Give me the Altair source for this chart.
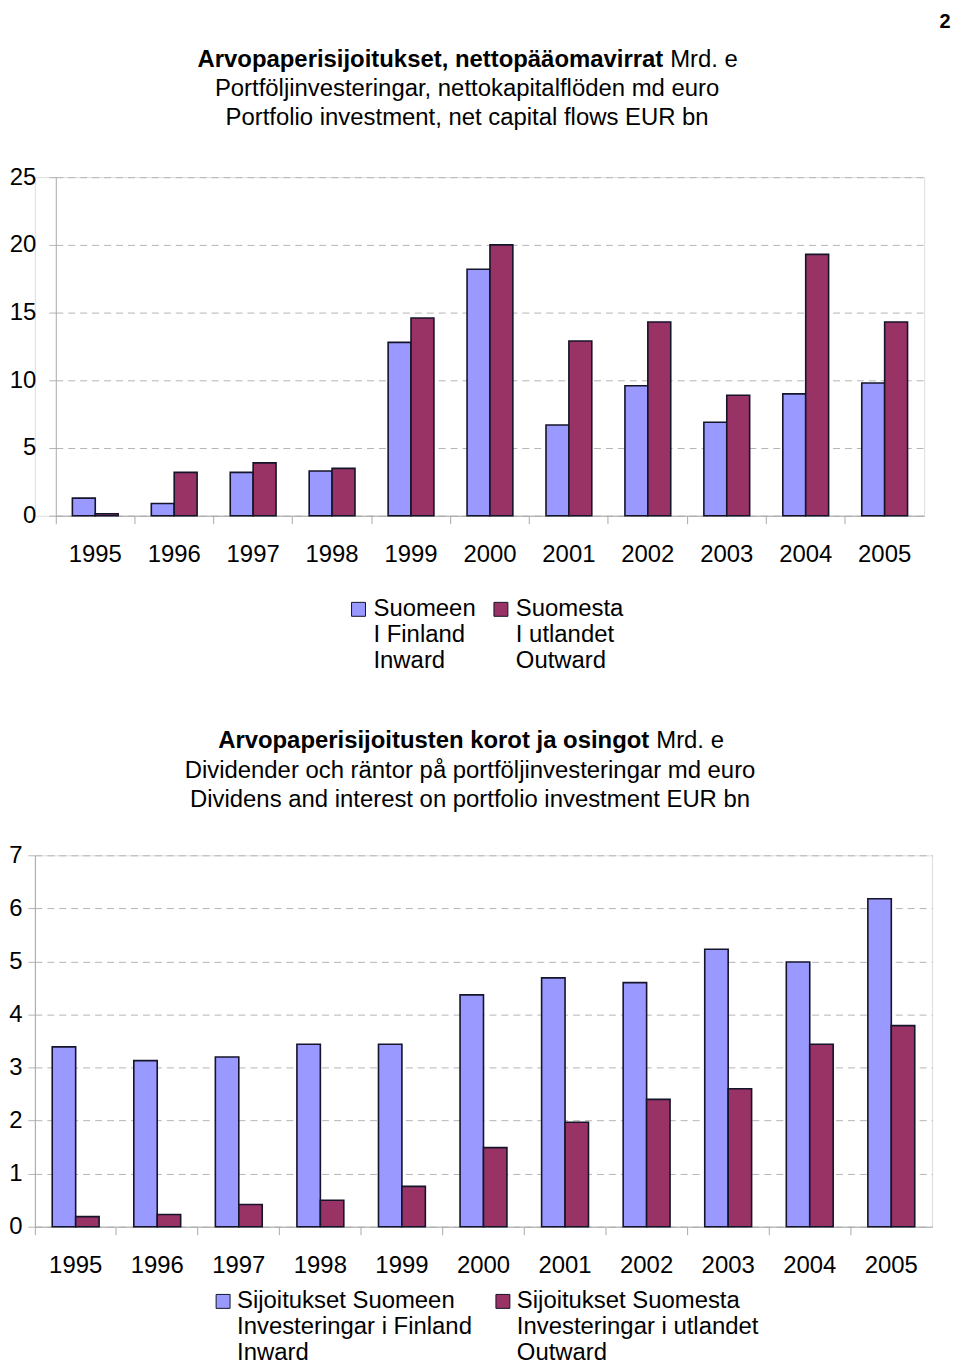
import altair as alt
import pandas as pd

FONT = "Liberation Sans"

# ---------------- data ----------------
years = ["1995", "1996", "1997", "1998", "1999", "2000", "2001", "2002", "2003", "2004", "2005"]

flows_inward = [1.3, 0.9, 3.2, 3.3, 12.8, 18.2, 6.7, 9.6, 6.9, 9.0, 9.8]
flows_outward = [0.15, 3.2, 3.9, 3.5, 14.6, 20.0, 12.9, 14.3, 8.9, 19.3, 14.3]

income_inward = [3.39, 3.13, 3.2, 3.44, 3.44, 4.37, 4.69, 4.6, 5.23, 4.99, 6.18]
income_outward = [0.19, 0.23, 0.42, 0.5, 0.76, 1.49, 1.97, 2.4, 2.6, 3.44, 3.79]

top_series = ["Suomeen", "Suomesta"]
top_legend_lines = [["Suomeen", "I Finland", "Inward"], ["Suomesta", "I utlandet", "Outward"]]
bottom_series = ["Sijoitukset Suomeen", "Sijoitukset Suomesta"]
bottom_legend_lines = [["Sijoitukset Suomeen", "Investeringar i Finland", "Inward"],
                       ["Sijoitukset Suomesta", "Investeringar i utlandet", "Outward"]]

top_title_bold = "Arvopaperisijoitukset, nettopääomavirrat"
top_title_rest = "Mrd. e"
top_title_lines = ["Portföljinvesteringar, nettokapitalflöden md euro",
                   "Portfolio investment, net capital flows EUR bn"]
bottom_title_bold = "Arvopaperisijoitusten korot ja osingot"
bottom_title_rest = "Mrd. e"
bottom_title_lines = ["Dividender och räntor på portföljinvesteringar md euro",
                      "Dividens and interest on portfolio investment EUR bn"]
page_number = "2"

top_ticks = [0, 5, 10, 15, 20, 25]
bottom_ticks = [0, 1, 2, 3, 4, 5, 6, 7]

COLORS = ["#9999FF", "#993366"]
GRID = "#b4b4b4"
AXIS = "#a8a8a8"
SHIFT = 21  # top panel's plot starts this far right of the shared left edge


def long_frame(series, v_in, v_out):
    rows = []
    for y, a, b in zip(years, v_in, v_out):
        rows.append({"year": y, "series": series[0], "value": a})
        rows.append({"year": y, "series": series[1], "value": b})
    return pd.DataFrame(rows)


def text_layer(text, x, y, size=24, weight="normal", align="center", baseline="middle"):
    return alt.Chart(pd.DataFrame({"t": [text]})).mark_text(
        font=FONT, fontSize=size, fontWeight=weight, align=align,
        baseline=baseline, color="black"
    ).encode(x=alt.value(x), y=alt.value(y), text="t:N")


def label_expr(series, lines):
    def arr(ls):
        return "[" + ", ".join("'" + s + "'" for s in ls) + "]"
    return f"datum.label == '{series[0]}' ? {arr(lines[0])} : {arr(lines[1])}"


def bars(df, series, lines, ymax, ticks, width, height, inner_pad, lab_pad_y,
         legend_x, legend_y, col_pad, lab_off, shift=0):
    xscale = alt.Scale(paddingInner=0, paddingOuter=0)
    yaxis_extra = {}
    if shift:
        xscale = alt.Scale(paddingInner=0, paddingOuter=0, range=[shift, width])
        yaxis_extra = {"offset": -shift}
    return alt.Chart(df).mark_bar(stroke="#14142a", strokeWidth=1.6).encode(
        x=alt.X("year:N", sort=years, scale=xscale,
                axis=alt.Axis(title=None, labelAngle=0, labelFontSize=24, labelFont=FONT,
                              labelColor="black", labelPadding=19, tickSize=8,
                              bandPosition=0, tickColor=AXIS, domainColor=AXIS,
                              grid=False)),
        xOffset=alt.XOffset("series:N", sort=series,
                            scale=alt.Scale(paddingInner=0, paddingOuter=inner_pad)),
        y=alt.Y("value:Q", scale=alt.Scale(domain=[0, ymax], nice=False),
                axis=alt.Axis(title=None, values=ticks, labelFontSize=24, labelFont=FONT,
                              labelColor="black", labelPadding=lab_pad_y, tickSize=8,
                              tickColor=GRID, tickDash=[7, 5], domainColor=AXIS,
                              gridColor=GRID, gridDash=[7, 5], grid=True, **yaxis_extra)),
        color=alt.Color("series:N",
                        scale=alt.Scale(domain=series, range=COLORS),
                        legend=alt.Legend(title=None, orient="none", legendX=legend_x,
                                          legendY=legend_y, direction="horizontal",
                                          columns=2, columnPadding=col_pad,
                                          symbolType="square", symbolSize=196,
                                          symbolStrokeColor="#14142a", symbolStrokeWidth=1,
                                          labelFontSize=24, labelFont=FONT,
                                          labelColor="black", labelOffset=lab_off,
                                          labelLimit=400, padding=0,
                                          labelExpr=label_expr(series, lines))),
    ).properties(width=width, height=height)


top_df = long_frame(top_series, flows_inward, flows_outward)
bottom_df = long_frame(bottom_series, income_inward, income_outward)

top_bars = bars(top_df, top_series, top_legend_lines, 25, top_ticks, 872 + SHIFT, 340,
                0.724, 12, 292 + SHIFT, 422, 13, 3, shift=SHIFT)
top = alt.layer(
    top_bars,
    text_layer(top_title_bold, 610 + SHIFT, -118, weight="bold", align="right"),
    text_layer(top_title_rest, 617 + SHIFT, -118, align="left"),
    text_layer(top_title_lines[0], 413 + SHIFT, -89),
    text_layer(top_title_lines[1], 413 + SHIFT, -59),
    text_layer(page_number, 893 + SHIFT, -166, size=20, weight="bold", baseline="top"),
)

bottom_bars = bars(bottom_df, bottom_series, bottom_legend_lines, 7, bottom_ticks, 901, 373,
                   0.74, 5, 177, 436, 18, 2)
bottom = alt.layer(
    bottom_bars,
    text_layer(bottom_title_bold, 617, -115, weight="bold", align="right"),
    text_layer(bottom_title_rest, 624, -115, align="left"),
    text_layer(bottom_title_lines[0], 437, -85),
    text_layer(bottom_title_lines[1], 437, -56),
)

chart = alt.concat(top, bottom, columns=1, spacing=54).resolve_scale(
    color="independent", x="independent", y="independent", xOffset="independent"
).resolve_legend(color="independent").properties(padding=0).configure_view(
    stroke=None
).configure(font=FONT)

chart.save("out.html", embed_options={"renderer": "svg", "actions": False})
